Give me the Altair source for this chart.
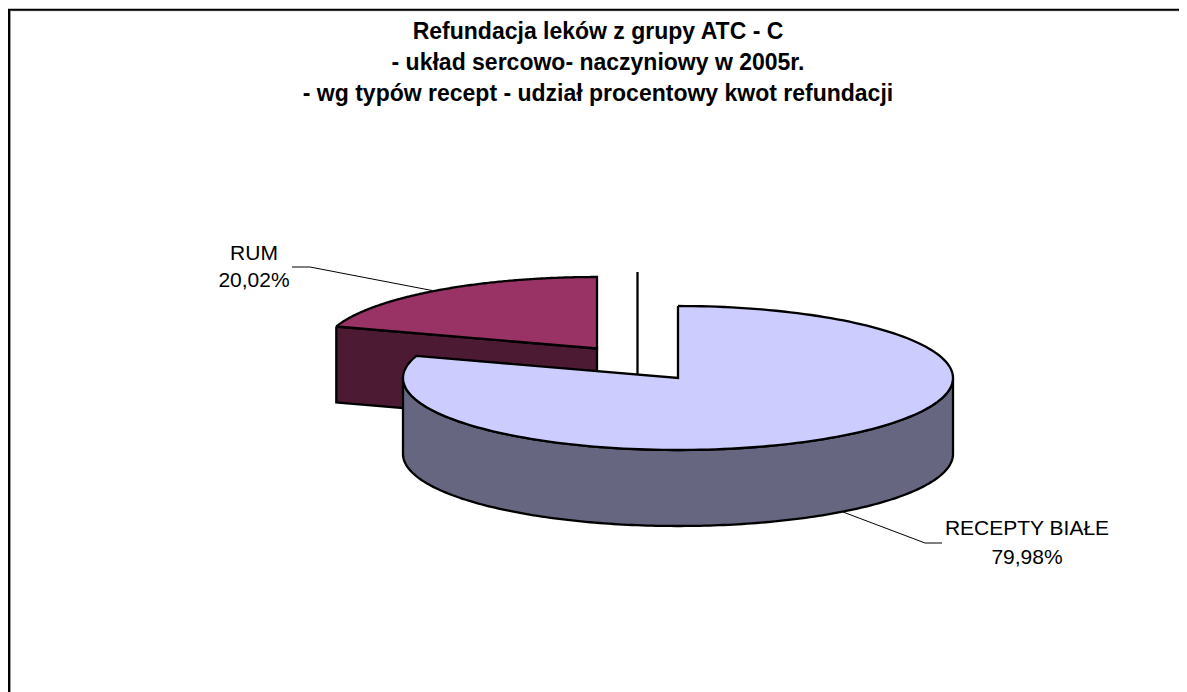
import numpy as np
import pandas as pd
import altair as alt

categories = ["RECEPTY BIAŁE", "RUM"]
values = [79.98, 20.02]
value_labels = ["79,98%", "20,02%"]
title_lines = [
    "Refundacja leków z grupy ATC - C",
    "- układ sercowo- naczyniowy w 2005r.",
    "- wg typów recept - udział procentowy kwot refundacji",
]

FONT = "Liberation Sans"
W, H = 1171, 684  # canvas, starts at page pixel (8, 8)
xs = alt.Scale(domain=[8, 8 + W], range=[0, W], nice=False, zero=False)
ys = alt.Scale(domain=[8 + H, 8], range=[H, 0], nice=False, zero=False)
no = None


def ell(cx, cy, rx, ry, a0, a1, n=180):
    t = np.radians(np.linspace(a0, a1, n))
    return list(cx + rx * np.sin(t)), list(cy - ry * np.cos(t))


def shape(xl, yl):
    return pd.DataFrame({"px": xl, "py": yl, "i": range(len(xl))})


def poly(df, fill, sw=2.3):
    return alt.Chart(df).mark_line(
        fill=fill, stroke="#000000", strokeWidth=sw, strokeJoin="miter", clip=False
    ).encode(
        x=alt.X("px:Q", scale=xs, axis=no),
        y=alt.Y("py:Q", scale=ys, axis=no),
        order="i:Q",
    )


def line(xl, yl, sw=1.0, color="#000000"):
    return alt.Chart(shape(xl, yl)).mark_line(
        stroke=color, strokeWidth=sw, clip=False
    ).encode(
        x=alt.X("px:Q", scale=xs, axis=no),
        y=alt.Y("py:Q", scale=ys, axis=no),
        order="i:Q",
    )


main_end = 360 * values[0] / 100  # clockwise from 12 o'clock

# exploded RUM slice
rc = (597.0, 348.5)
rr = (274.0, 71.5)
depth = 76.0
ax, ay = ell(*rc, *rr, main_end, 360)
rum_top = shape(ax + [rc[0], ax[0]], ay + [rc[1], ay[0]])
rum_side = shape(
    [ax[0], rc[0], rc[0], ax[0], ax[0]],
    [ay[0], rc[1], rc[1] + depth, ay[0] + depth, ay[0]],
)

# main slice
mc = (678.0, 378.0)
mr = (275.0, 72.0)
tx, ty = ell(*mc, *mr, 0, main_end)
main_top = shape(tx + [mc[0], tx[0]], ty + [mc[1], ty[0]])
sx, sy = ell(*mc, *mr, 90, 270)
main_side = shape(sx + sx[::-1] + [sx[0]], sy + [v + depth for v in sy[::-1]] + [sy[0]])

labels = pd.DataFrame({
    "t": [categories[1], value_labels[1], categories[0], value_labels[0]],
    "px": [254, 254, 1027, 1027],
    "py": [254, 281, 529, 558],
})
text = alt.Chart(labels).mark_text(font=FONT, fontSize=21, color="#000000", baseline="middle", align="center").encode(
    x=alt.X("px:Q", scale=xs, axis=no),
    y=alt.Y("py:Q", scale=ys, axis=no),
    text="t:N",
)

chart = alt.layer(
    line([10.5, 10.5], [11, 692], 1.0, "#999999"),
    line([11, 8 + W], [10.8, 10.8], 1.0, "#bbbbbb"),
    line([9, 9], [9.5, 692], 2.0),
    line([8, 8 + W], [9.8, 9.8], 2.0),
    poly(rum_side, "#4D1A33"),
    poly(rum_top, "#993366"),
    line([292, 310, 432], [267, 267, 290.5]),
    line([843, 925, 942], [512, 543, 543]),
    poly(main_side, "#666680"),
    poly(main_top, "#CCCCFF"),
    line([637.5, 637.5], [272, 374], 2.3),
    text,
).properties(
    width=W,
    height=H,
    padding=0,
    autosize=alt.AutoSizeParams(type="none"),
    title=alt.TitleParams(
        text=title_lines,
        font=FONT,
        fontSize=23,
        fontWeight="bold",
        color="#000000",
        anchor="middle",
        align="center",
        baseline="alphabetic",
        lineHeight=31,
        offset=0,
        dx=4.5,
        dy=118.5,
    ),
).configure_view(stroke=None)

chart.save("out.html", embed_options={"renderer": "svg", "actions": False})
